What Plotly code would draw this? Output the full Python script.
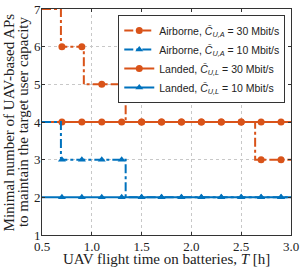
import plotly.graph_objects as go

# Step breakpoints (T in hours) and values (number of APs)
air30_T = [0.5, 0.69, 0.92, 1.34, 2.64, 3.0]
air30_N = [7, 6, 5, 4, 3, 3]
air10_T = [0.5, 0.69, 1.34, 3.0]
air10_N = [4, 3, 2, 2]
land30_T = [0.5, 3.0]
land30_N = [4, 4]
land10_T = [0.5, 3.0]
land10_N = [2, 2]

# Marker positions
mark_T = [0.7, 0.9, 1.1, 1.3, 1.5, 1.7, 1.9, 2.1, 2.3, 2.5, 2.7, 2.9]
air30_mark = [6, 6, 5, 5, 4, 4, 4, 4, 4, 4, 3, 3]
air10_mark = [3, 3, 3, 3, 2, 2, 2, 2, 2, 2, 2, 2]
land30_mark = [4] * 12
land10_mark = [2] * 12

x_ticks = [0.5, 1.0, 1.5, 2.0, 2.5, 3.0]
x_ticklabels = ["0.5", "1.0", "1.5", "2.0", "2.5", "3.0"]
y_ticks = [1, 2, 3, 4, 5, 6, 7]

ORANGE = "#D95319"
BLUE = "#0072BD"

names = [
    "Airborne, <i>C̄</i><sub><i>U,A</i></sub> = 30 Mbit/s",
    "Airborne, <i>C̄</i><sub><i>U,A</i></sub> = 10 Mbit/s",
    "Landed, <i>C̄</i><sub><i>U,L</i></sub> = 30 Mbit/s",
    "Landed, <i>C̄</i><sub><i>U,L</i></sub> = 10 Mbit/s",
]

series = [
    (land10_T, land10_N, land10_mark, BLUE, "solid", "triangle-up", names[3]),
    (land30_T, land30_N, land30_mark, ORANGE, "solid", "circle", names[2]),
    (air10_T, air10_N, air10_mark, BLUE, "dashdot", "triangle-up", names[1]),
    (air30_T, air30_N, air30_mark, ORANGE, "dashdot", "circle", names[0]),
]

fig = go.Figure()
for T, N, M, c, d, sym, nm in series:
    fig.add_trace(go.Scatter(x=T, y=N, mode="lines", line=dict(color=c, width=2, dash=d, shape="hv"),
                             showlegend=False, hoverinfo="skip"))
    fig.add_trace(go.Scatter(x=mark_T, y=M, mode="markers", marker=dict(color=c, size=7, symbol=sym),
                             showlegend=False))

# legend entries
for T, N, M, c, d, sym, nm in reversed(series):
    fig.add_trace(go.Scatter(x=[None], y=[None], mode="lines+markers", name=nm,
                             line=dict(color=c, width=2, dash=d),
                             marker=dict(color=c, size=7, symbol=sym)))

serif = "Liberation Serif, Times New Roman, serif"
fig.update_layout(
    width=302, height=270,
    margin=dict(l=42, r=11, t=9, b=35, autoexpand=False),
    paper_bgcolor="white", plot_bgcolor="white",
    font=dict(family=serif, size=13, color="#222"),
    showlegend=True,
    legend=dict(x=0.977, y=0.973, xanchor="right", yanchor="top",
                bgcolor="white", bordercolor="#333", borderwidth=1,
                font=dict(family="Liberation Sans, Arial, sans-serif", size=10.5, color="#222"),
                tracegroupgap=0, itemwidth=30),
    annotations=[
        dict(text="UAV flight time on batteries, <i>T</i> [h]", xref="paper", yref="paper",
             x=0.5, y=-0.104, xanchor="center", yanchor="middle", showarrow=False,
             font=dict(family=serif, size=15, color="#222")),
        dict(text="Minimal number of UAV-based APs",
             xref="paper", yref="paper", x=-0.131, y=0.5, xanchor="center", yanchor="middle",
             textangle=-90, showarrow=False, font=dict(family=serif, size=15, color="#222")),
        dict(text="to maintain the target user capacity",
             xref="paper", yref="paper", x=-0.076, y=0.5, xanchor="center", yanchor="middle",
             textangle=-90, showarrow=False, font=dict(family=serif, size=15, color="#222")),
    ],
)
fig.update_xaxes(range=[0.5, 3.0], tickvals=x_ticks, ticktext=x_ticklabels, automargin=False,
                 showgrid=True, gridcolor="#c8c8c8", griddash="dot", gridwidth=1,
                 showline=True, linecolor="#333", linewidth=1, mirror="ticks",
                 ticks="inside", ticklen=3, tickcolor="#333", zeroline=False,
                 ticklabelstandoff=-1)
fig.update_yaxes(range=[1, 7], tickvals=y_ticks, automargin=False,
                 showgrid=True, gridcolor="#c8c8c8", griddash="dot", gridwidth=1,
                 showline=True, linecolor="#333", linewidth=1, mirror="ticks",
                 ticks="inside", ticklen=3, tickcolor="#333", zeroline=False,
                 ticklabelstandoff=-2)

fig.write_html("out.html", config={"displayModeBar": False},
               post_script="document.body.style.margin='0';")
